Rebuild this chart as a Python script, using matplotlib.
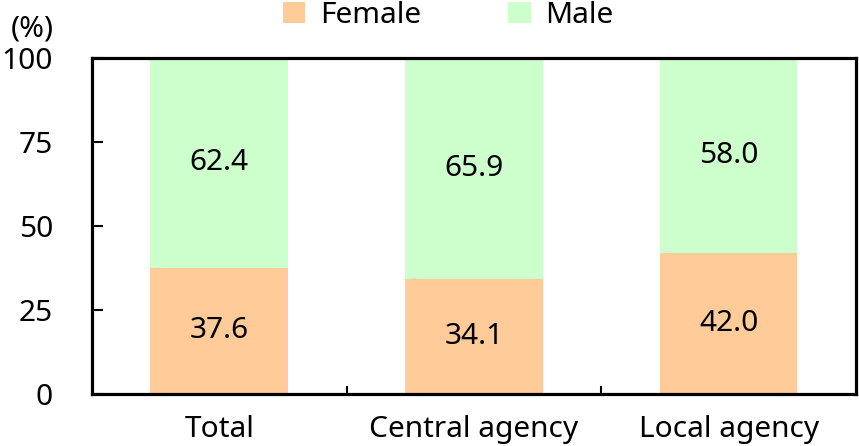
import numpy as np
import matplotlib
matplotlib.use('Agg')
import matplotlib.pyplot as plt
from matplotlib.ticker import FixedLocator

plt.rcParams['font.family'] = ['Noto Sans', 'DejaVu Sans']

categories = ['Total', 'Central agency', 'Local agency']
female = [37.6, 34.1, 42.0]
male = [62.4, 65.9, 58.0]
yticks = [0, 25, 50, 75, 100]

female_color = '#FFCC99'
male_color = '#CCFFCC'
fs = 21.5

fig = plt.figure(figsize=(8.59, 4.46), dpi=100)
ax = fig.add_axes([0.107, 0.1166, 0.8895, 0.7534])

x = np.arange(len(categories))
w = 0.54
b1 = ax.bar(x, female, w, color=female_color, label='Female', zorder=2)
b2 = ax.bar(x, male, w, bottom=female, color=male_color, label='Male', zorder=2)

for i in range(len(categories)):
    ax.text(x[i], female[i] / 2, f'{female[i]:.1f}', ha='center', va='center', fontsize=fs)
    ax.text(x[i], female[i] + male[i] / 2, f'{male[i]:.1f}', ha='center', va='center', fontsize=fs)

ax.set_xlim(-0.5, len(categories) - 0.5)
ax.set_ylim(0, 100)
ax.set_yticks(yticks)
ax.set_yticklabels([str(v) for v in yticks], fontsize=fs)
ax.tick_params(axis='y', direction='in', length=8, width=1.5, pad=28)

ax.set_xticks(x)
ax.set_xticklabels(categories, fontsize=fs)
ax.tick_params(axis='x', which='major', length=0, pad=15)
ax.xaxis.set_minor_locator(FixedLocator([0.5, 1.5]))
ax.tick_params(axis='x', which='minor', direction='in', length=6, width=1.5)

for s in ax.spines.values():
    s.set_linewidth(2.3)
    s.set_zorder(3)

fig.text(0.012, 0.935, '(%)', fontsize=fs, ha='left', va='center')

leg = fig.legend(handles=[b1, b2], loc='center', bbox_to_anchor=(0.522, 0.965), ncol=2,
                 frameon=False, fontsize=fs, handlelength=0.75, handleheight=0.7,
                 handletextpad=0.5, columnspacing=2.9)

fig.savefig('out.png', dpi=100)
